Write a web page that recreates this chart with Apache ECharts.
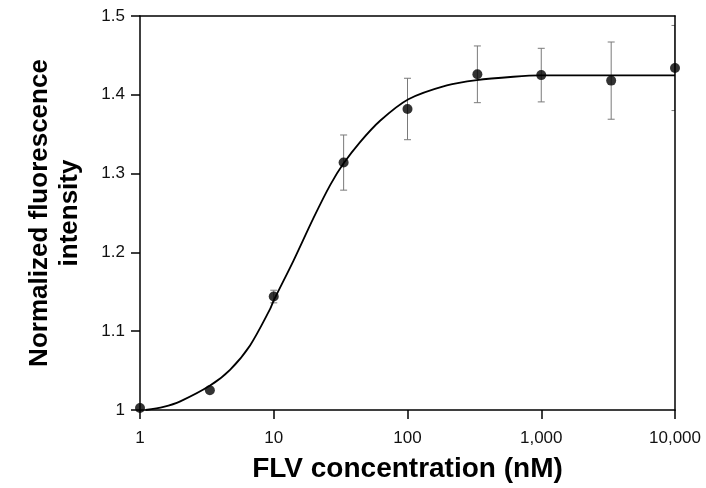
<!DOCTYPE html>
<html><head><meta charset="utf-8">
<script src="https://cdn.jsdelivr.net/npm/echarts@6/dist/echarts.min.js"></script>
<style>html,body{margin:0;padding:0;background:#fff}#c{width:706px;height:488px}</style>
</head><body><div id="c"></div>
<script>
// measured data points (concentration in nM)
const concentrations = [1, 3.33, 10, 33.3, 100, 333, 1000, 3333, 10000];
const meanIntensity = [1.0025, 1.025, 1.144, 1.314, 1.382, 1.426, 1.425, 1.418, 1.434];
const errIntensity = [0, 0, 0.008, 0.035, 0.039, 0.036, 0.034, 0.049, 0.054];
// fitted curve
const fitX = [1.1, 1.5, 2.0, 3.34, 4.71, 6.65, 9.38, 9.93, 14.0, 19.8, 26.4, 33.2, 44.2, 62.4, 101.6, 196.8, 329.7, 619, 981, 3000, 10000];
const fitY = [1.0, 1.004, 1.011, 1.031, 1.051, 1.082, 1.128, 1.138, 1.189, 1.2435, 1.2854, 1.3127, 1.3400, 1.3671, 1.3944, 1.4120, 1.4187, 1.4229, 1.4246, 1.4246, 1.4246];
const xTickLabels = {1: '1', 10: '10', 100: '100', 1000: '1,000', 10000: '10,000'};
const yTickLabels = {1: '1', 1.1: '1.1', 1.2: '1.2', 1.3: '1.3', 1.4: '1.4', 1.5: '1.5'};
const xTitle = 'FLV concentration (nM)';
const yTitle = 'Normalized fluorescence\nintensity';

const FONT = "'Liberation Sans', Arial, sans-serif";
const chart = echarts.init(document.getElementById('c'), null, {renderer: 'canvas'});
const errData = concentrations.map((c, i) => [c, meanIntensity[i] - errIntensity[i], meanIntensity[i] + errIntensity[i]]);

chart.setOption({
  animation: false,
  backgroundColor: '#fff',
  grid: {left: 140, right: 31, top: 16, bottom: 74},
  xAxis: [{
    type: 'log', logBase: 10, min: 1, max: 10000,
    name: xTitle, nameLocation: 'middle', nameGap: 45,
    nameTextStyle: {fontFamily: FONT, fontSize: 28, fontWeight: 'bold', color: '#000'},
    axisLine: {lineStyle: {color: '#000', width: 1.5}},
    axisTick: {show: true, length: 9, inside: false, lineStyle: {color: '#000', width: 1.5}},
    minorTick: {show: false},
    splitLine: {show: false},
    axisLabel: {margin: 20, fontFamily: FONT, fontSize: 17, color: '#111',
      formatter: v => xTickLabels[Math.round(v)] || ''},
    z: 10
  }, {
    type: 'log', logBase: 10, min: 1, max: 10000, position: 'top',
    axisLine: {lineStyle: {color: '#000', width: 1.5}},
    axisTick: {show: false}, axisLabel: {show: false}, splitLine: {show: false}, z: 10
  }],
  yAxis: [{
    type: 'value', min: 1, max: 1.5, interval: 0.1,
    name: yTitle, nameLocation: 'middle', nameGap: 55, nameRotate: 90,
    nameTextStyle: {fontFamily: FONT, fontSize: 26, fontWeight: 'bold', color: '#000', lineHeight: 30},
    axisLine: {show: true, lineStyle: {color: '#000', width: 1.5}},
    axisTick: {show: true, length: 9, inside: false, lineStyle: {color: '#000', width: 1.5}},
    splitLine: {show: false},
    axisLabel: {margin: 15, fontFamily: FONT, fontSize: 17, color: '#111',
      formatter: v => yTickLabels[Math.round(v * 10) / 10] || ''},
    z: 10
  }, {
    type: 'value', min: 1, max: 1.5, interval: 0.1, position: 'right',
    axisLine: {show: true, lineStyle: {color: '#000', width: 1.5}},
    axisTick: {show: false}, axisLabel: {show: false}, splitLine: {show: false}, z: 10
  }],
  series: [{
    type: 'custom', z: 1, clip: true,
    data: errData,
    encode: {x: 0, y: [1, 2]},
    renderItem: (params, api) => {
      const x = api.value(0), lo = api.value(1), hi = api.value(2);
      if (hi - lo <= 0) return;
      const p1 = api.coord([x, hi]), p2 = api.coord([x, lo]);
      const hw = 3.5;
      const st = {stroke: '#7a7a7a', lineWidth: 1};
      return {type: 'group', children: [
        {type: 'line', shape: {x1: p1[0], y1: p1[1], x2: p2[0], y2: p2[1]}, style: st},
        {type: 'line', shape: {x1: p1[0] - hw, y1: p1[1], x2: p1[0] + hw, y2: p1[1]}, style: st},
        {type: 'line', shape: {x1: p2[0] - hw, y1: p2[1], x2: p2[0] + hw, y2: p2[1]}, style: st}
      ]};
    }
  }, {
    type: 'line', z: 4, smooth: 0.3, symbol: 'none', clip: true,
    data: fitX.map((x, i) => [x, fitY[i]]),
    lineStyle: {color: '#000', width: 1.8}
  }, {
    type: 'scatter', z: 5, clip: false, symbol: 'circle', symbolSize: 10,
    data: concentrations.map((x, i) => [x, meanIntensity[i]]),
    itemStyle: {color: '#000'}
  }]
});
</script></body></html>
